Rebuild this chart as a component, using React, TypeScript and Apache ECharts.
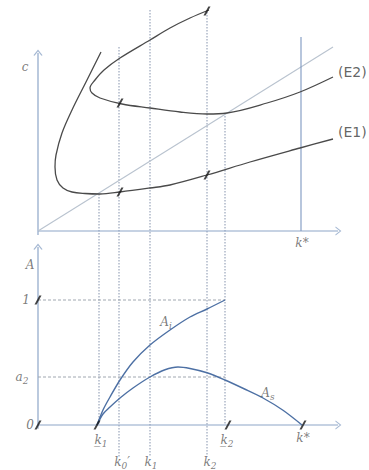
import React, { useEffect, useRef } from "react";
import * as echarts from "echarts";

// x: capital stock k, measured from the origin in diagram units
// c: consumption (top panel), A: share (bottom panel)
const kLowUnder1 = 59; // k underline 1
const kLowUnder2 = 188; // k underline 2
const kStar = 264;

// (E1) curve, top panel [k, c]
const E1: number[][] = [
  [63, 179], [48, 149], [34, 121], [24, 98], [18, 76], [17, 64], [19, 51],
  [25, 43], [34, 39], [47, 37.5], [62, 37], [82, 39], [112, 43], [132, 46],
  [169, 56], [212, 69], [262, 83], [295, 92],
];
// (E2) curve, top panel [k, c]
const E2: number[][] = [
  [171, 221], [152, 213], [132, 203], [112, 191], [82, 173], [66, 161],
  [57, 151], [52, 143], [54, 138], [62, 133], [84, 127], [112, 123],
  [142, 119], [169, 117], [189, 118], [229, 128], [262, 139], [295, 154],
];
// 45-degree-like line c = f(k)
const diagonal: number[][] = [[0, 0], [295, 184]];
// k* vertical in top panel
const kStarLine: number[][] = [[263, 0], [263, 194]];

// A_i and A_s curves, bottom panel [k, A]
const Ai: number[][] = [
  [59, 0], [65, 0.12], [72, 0.224], [82, 0.36], [95, 0.504], [112, 0.64],
  [132, 0.76], [152, 0.864], [169, 0.928], [187, 1.0],
];
const As: number[][] = [
  [59, 0], [65, 0.088], [72, 0.144], [82, 0.216], [95, 0.296], [112, 0.384],
  [127, 0.442], [140, 0.464], [152, 0.452], [169, 0.418], [187, 0.36],
  [206, 0.29], [225, 0.216], [245, 0.118], [264, 0],
];
const a2 = 0.384;

// dotted verticals: [k, top c, bottom c]
const verticals: number[][] = [
  [61, 37, -194],
  [81, 184, -226],
  [112, 221, -226],
  [169, 219, -226],
  [187, 118, -194],
];

// tick marks on curves (c units) and on bottom axes (A units)
const ticksC: number[][] = [[82, 128], [82, 39], [169, 220], [169, 56]];
const ticksA: number[][] = [[0, 1], [0, 0], [kLowUnder1, 0], [kLowUnder2 + 2, 0], [kStar + 1, 0]];

const AXIS = "#8ea6c8";
const CURVE_TOP = "#4a4a4a";
const CURVE_BOT = "#4d70a4";
const DOT = "#8593ad";
const TXT = "#5a5a5a";
const SERIF = "'DejaVu Serif', 'Liberation Serif', serif";
const SANS = "'DejaVu Sans', 'Liberation Sans', sans-serif";

const ARROW = "path://M0,6 L5,0 L10,6";
const TICK = "path://M5,0 L7.2,0 L2.2,9 L0,9 Z";

const rich = {
  m: { fontFamily: SERIF, fontStyle: "italic", fontSize: 12, color: TXT, lineHeight: 16 },
  s: { fontFamily: SERIF, fontStyle: "italic", fontSize: 9, color: TXT, verticalAlign: "bottom", lineHeight: 13 },
  e: { fontFamily: SANS, fontSize: 14, color: "#3c3c3c", lineHeight: 16 },
};

function lab(x: number, y: number, fmt: string, align = "center") {
  return {
    value: [x, y],
    label: { show: true, position: "inside", align, verticalAlign: "middle", formatter: fmt, rich },
  };
}

export default function App() {
  const ref = useRef<HTMLDivElement>(null);
  useEffect(() => {
    if (!ref.current) return;
    const chart = echarts.init(ref.current, null, { renderer: "svg" });
    const vSeries = verticals.map((v) => ({
      type: "line",
      xAxisIndex: 0,
      yAxisIndex: 0,
      data: [[v[0], v[1]], [v[0], v[2]]],
      symbol: "none",
      silent: true,
      lineStyle: { color: DOT, width: 1, type: [1.5, 1.5] },
      z: 1,
    }));
    const line = (data: number[][], yIdx: number, color: string, width: number, smooth: number | boolean, type: any = "solid", z = 3) => ({
      type: "line",
      xAxisIndex: 0,
      yAxisIndex: yIdx,
      data,
      symbol: "none",
      smooth,
      silent: true,
      clip: false,
      lineStyle: { color, width, type },
      z,
    });
    const option: any = {
      animation: false,
      grid: { left: 38, right: 31, top: 0, bottom: 0 },
      xAxis: { type: "value", min: 0, max: 300, show: false },
      yAxis: [
        { type: "value", min: -239, max: 231, show: false },
        { type: "value", min: -0.36, max: 3.4, show: false },
      ],
      series: [
        ...vSeries,
        // axes
        line([[0, -4], [0, 178]], 0, AXIS, 1.2, false, "solid", 2),
        line([[0, 0], [300, 0]], 0, AXIS, 1.2, false, "solid", 2),
        line([[0, -0.03], [0, 1.424]], 1, AXIS, 1.2, false, "solid", 2),
        line([[0, 0], [300, 0]], 1, AXIS, 1.2, false, "solid", 2),
        {
          type: "scatter", xAxisIndex: 0, yAxisIndex: 0, silent: true, z: 4, clip: false,
          itemStyle: { color: "none", borderColor: AXIS, borderWidth: 1 },
          data: [
            { value: [0, 178], symbol: ARROW, symbolSize: [8, 5], symbolRotate: 0 },
            { value: [300, 0], symbol: ARROW, symbolSize: [8, 5], symbolRotate: -90 },
          ],
        },
        {
          type: "scatter", xAxisIndex: 0, yAxisIndex: 1, silent: true, z: 4, clip: false,
          itemStyle: { color: "none", borderColor: AXIS, borderWidth: 1 },
          data: [
            { value: [0, 1.424], symbol: ARROW, symbolSize: [8, 5], symbolRotate: 0 },
            { value: [300, 0], symbol: ARROW, symbolSize: [8, 5], symbolRotate: -90 },
          ],
        },
        line(diagonal, 0, "#b9c3cf", 1.1, false, "solid", 2),
        line(kStarLine, 0, "#7d97c0", 1.1, false, "solid", 2),
        line([[0, 1], [187, 1]], 1, "#a0a7b0", 1, false, [3, 2], 2),
        line([[0, a2], [187, a2]], 1, "#a0a7b0", 1, false, [3, 2], 2),
        line(E1, 0, CURVE_TOP, 1.3, 0.35),
        line(E2, 0, CURVE_TOP, 1.3, 0.35),
        line(Ai, 1, CURVE_BOT, 1.4, 0.3),
        line(As, 1, CURVE_BOT, 1.4, 0.3),
        {
          type: "scatter", xAxisIndex: 0, yAxisIndex: 0, silent: true, z: 6, clip: false,
          symbol: TICK, symbolSize: [7, 9],
          itemStyle: { color: "#151515" },
          data: ticksC,
        },
        {
          type: "scatter", xAxisIndex: 0, yAxisIndex: 1, silent: true, z: 6, clip: false,
          symbol: TICK, symbolSize: [7, 9],
          itemStyle: { color: "#151515" },
          data: ticksA,
        },
        {
          type: "scatter", xAxisIndex: 0, yAxisIndex: 0, silent: true, z: 7, clip: false,
          symbolSize: 0,
          data: [
            lab(-13, 164, "{m|c}"),
            lab(kStar, -12, "{m|k*}"),
            lab(300, 159, "{e|(E2)}", "left"),
            lab(300, 99, "{e|(E1)}", "left"),
          ],
        },
        {
          type: "scatter", xAxisIndex: 0, yAxisIndex: 1, silent: true, z: 7, clip: false,
          symbolSize: 0,
          data: [
            lab(-8, 1.28, "{m|A}"),
            lab(-12, 1.0, "{m|1}"),
            lab(-16, a2, "{m|a}{s|2}"),
            lab(-8, 0, "{m|0}"),
            lab(63, -0.12, "{m|k\u0332}{s|1}"),
            lab(kLowUnder2 + 1, -0.12, "{m|k\u0332}{s|2}"),
            lab(kStar + 1, -0.1, "{m|k*}"),
            lab(84, -0.296, "{m|k}{s|0}{m|\u2032}"),
            lab(113, -0.296, "{m|k}{s|1}"),
            lab(172, -0.296, "{m|k}{s|2}"),
            lab(128, 0.824, "{m|A}{s|i}"),
            lab(230, 0.256, "{m|A}{s|s}"),
          ],
        },
      ],
    };
    chart.setOption(option);
    return () => chart.dispose();
  }, []);
  return (
    <div
      ref={ref}
      style={{ position: "absolute", left: 0, top: 0, width: 369, height: 470, background: "#fff" }}
    />
  );
}
